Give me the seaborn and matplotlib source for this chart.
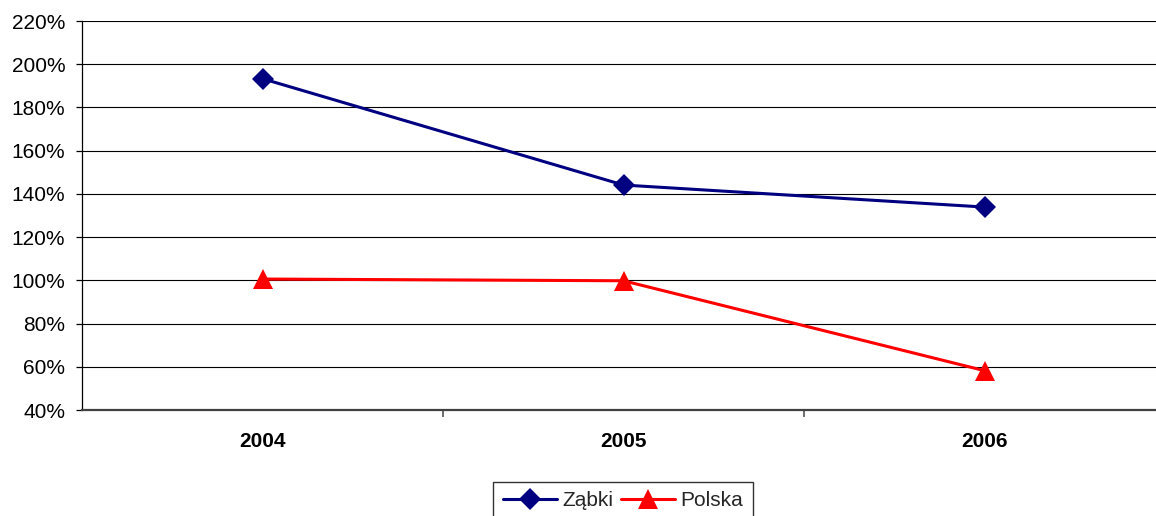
import pandas as pd
import seaborn as sns
import matplotlib.pyplot as plt
from matplotlib.ticker import FuncFormatter, FixedLocator

years = ["2004", "2005", "2006"]
zabki = [193.3, 144.1, 133.9]
polska = [100.6, 99.8, 58.2]

df = pd.DataFrame({"year": years * 2,
                   "value": zabki + polska,
                   "series": ["Ząbki"] * 3 + ["Polska"] * 3})

sns.set_theme(style="white")
plt.rcParams['font.family'] = ['Liberation Sans', 'DejaVu Sans']

fig = plt.figure(figsize=(11.56, 5.16), dpi=100)
ax = fig.add_axes([82 / 1156, 1 - 410 / 516, 1083 / 1156, 389 / 516])

sns.lineplot(data=df[df.series == "Ząbki"], x="year", y="value", ax=ax,
             color="#000080", marker="D", markersize=11, linewidth=2.2,
             markeredgewidth=0, label="Ząbki")
sns.lineplot(data=df[df.series == "Polska"], x="year", y="value", ax=ax,
             color="#FF0000", marker="^", markersize=14, linewidth=2.2,
             markeredgewidth=0, label="Polska")

ax.set_xlim(-0.5, 2.5)
ax.set_ylim(40, 220)
ax.set_yticks(range(40, 221, 20))
ax.yaxis.set_major_formatter(FuncFormatter(lambda v, p: f"{v:.0f}%"))
ax.grid(axis="y", color="black", linewidth=0.8)
ax.set_axisbelow(True)

for s in ["top", "right"]:
    ax.spines[s].set_visible(False)
ax.spines["left"].set_color("black")
ax.spines["left"].set_linewidth(0.9)
ax.spines["bottom"].set_color("#404040")
ax.spines["bottom"].set_linewidth(1.6)

ax.set_xlabel("")
ax.set_ylabel("")
ax.tick_params(axis="y", which="major", left=True, length=4, width=0.9,
               color="black", pad=8, labelsize=15, labelcolor="black")
ax.tick_params(axis="x", which="major", bottom=False, length=0, pad=16,
               labelsize=15, labelcolor="black")
ax.xaxis.set_minor_locator(FixedLocator([0.5, 1.5]))
ax.tick_params(axis="x", which="minor", bottom=True, length=5, width=1.2,
               color="#555555")
for lbl in ax.get_xticklabels():
    lbl.set_fontweight("bold")

ax.legend_.remove()
h, l = ax.get_legend_handles_labels()
leg = fig.legend(h, l, loc="upper center", bbox_to_anchor=(623 / 1156, 1 - 482 / 516),
                 ncol=2, fontsize=15, frameon=True, fancybox=False,
                 edgecolor="black", handlelength=2.6, columnspacing=0.4,
                 handletextpad=0.25, borderpad=0.45, borderaxespad=0)
leg.get_frame().set_linewidth(1.0)

fig.savefig("out.png", dpi=100)
